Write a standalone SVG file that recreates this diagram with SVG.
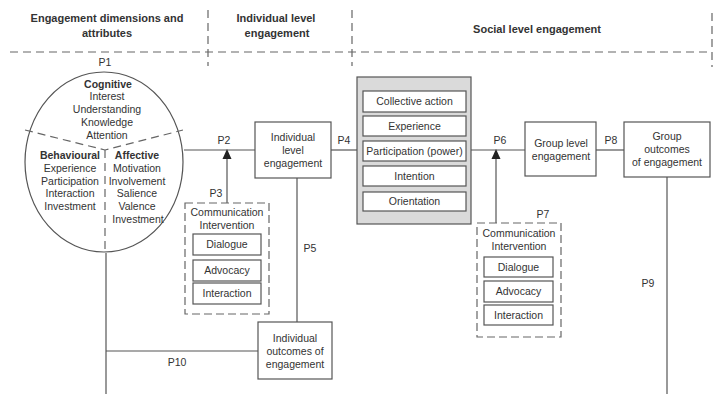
<svg xmlns="http://www.w3.org/2000/svg" width="718" height="394" viewBox="0 0 718 394">
<style>
text{font-family:"Liberation Sans",Arial,Helvetica,sans-serif;font-size:10.5px;fill:#333;text-anchor:middle}
.h{font-weight:bold;font-size:11px}
.b{font-weight:bold}
.ln{stroke:#555;stroke-width:1.2;fill:none}
.dash{stroke:#666;stroke-width:1.2;fill:none;stroke-dasharray:8 5}
.box{fill:#fff;stroke:#555;stroke-width:1.2}
.dbox{fill:#fff;stroke:#666;stroke-width:1.2;stroke-dasharray:8 4}
.grey{fill:#dadada;stroke:#555;stroke-width:1.2}
.arr{fill:#222}
</style>
<rect width="718" height="394" fill="#fff"/>
<g id="header">
<line class="dash" x1="10" y1="52" x2="712" y2="52"/>
<line class="dash" x1="208" y1="10" x2="208" y2="66"/>
<line class="dash" x1="352" y1="10" x2="352" y2="66"/>
<line class="dash" x1="712" y1="13" x2="712" y2="67"/>
<text class="h" x="107" y="22">Engagement dimensions and</text>
<text class="h" x="107" y="37">attributes</text>
<text class="h" x="276" y="22">Individual level</text>
<text class="h" x="277" y="37">engagement</text>
<text class="h" x="537" y="33">Social level engagement</text>
</g>
<g id="connectors">
<line class="ln" x1="184" y1="150" x2="255" y2="150"/>
<line class="ln" x1="227" y1="203" x2="227" y2="158"/>
<polygon class="arr" points="227,149 222.5,159 231.5,159"/>
<line class="ln" x1="331" y1="150" x2="357" y2="150"/>
<line class="ln" x1="297" y1="178" x2="297" y2="322"/>
<line class="ln" x1="471" y1="150" x2="525" y2="150"/>
<line class="ln" x1="496" y1="223" x2="496" y2="158"/>
<polygon class="arr" points="496,149 491.5,159 500.5,159"/>
<line class="ln" x1="596" y1="150" x2="624" y2="150"/>
<line class="ln" x1="667" y1="177" x2="667" y2="394"/>
<line class="ln" x1="106" y1="253" x2="106" y2="394"/>
<line class="ln" x1="106" y1="351" x2="258" y2="351"/>
<text x="105" y="66">P1</text>
<text x="224" y="144">P2</text>
<text x="216" y="197">P3</text>
<text x="344" y="144">P4</text>
<text x="310" y="252">P5</text>
<text x="500" y="144">P6</text>
<text x="543" y="218">P7</text>
<text x="611" y="144">P8</text>
<text x="648" y="287">P9</text>
<text x="177" y="366">P10</text>
</g>
<g id="dimensions">
<ellipse cx="104" cy="162" rx="79" ry="90" fill="#fff" stroke="#555" stroke-width="1.2"/>
<polyline class="dash" points="25,130 105,150 183,130" stroke-dasharray="6 4"/>
<line class="dash" x1="105" y1="150" x2="105" y2="252" stroke-dasharray="6 4"/>
<text class="b" x="108" y="88">Cognitive</text>
<text x="107" y="100">Interest</text>
<text x="107" y="113">Understanding</text>
<text x="107" y="126">Knowledge</text>
<text x="107" y="139">Attention</text>
<text class="b" x="70" y="159">Behavioural</text>
<text x="70" y="172">Experience</text>
<text x="70" y="185">Participation</text>
<text x="70" y="197">Interaction</text>
<text x="70" y="210">Investment</text>
<text class="b" x="137" y="159">Affective</text>
<text x="137" y="172">Motivation</text>
<text x="137" y="185">Involvement</text>
<text x="137" y="197">Salience</text>
<text x="137" y="210">Valence</text>
<text x="138" y="223">Investment</text>
</g>
<g id="individual-engagement">
<rect class="box" x="255" y="122" width="76" height="56"/>
<text x="293" y="141">Individual</text>
<text x="293" y="154">level</text>
<text x="293" y="167">engagement</text>
</g>
<g id="comm-intervention-1">
<rect class="dbox" x="185" y="203" width="84" height="111"/>
<text x="227" y="216">Communication</text>
<text x="227" y="229">Intervention</text>
<rect class="box" x="193" y="234" width="68" height="21"/>
<text x="227" y="248">Dialogue</text>
<rect class="box" x="193" y="260" width="68" height="21"/>
<text x="227" y="274">Advocacy</text>
<rect class="box" x="193" y="283" width="68" height="21"/>
<text x="227" y="297">Interaction</text>
</g>
<g id="social-attributes">
<rect class="grey" x="357" y="77" width="114" height="147"/>
<rect class="box" x="363" y="91" width="103" height="21"/>
<text x="414.5" y="105">Collective action</text>
<rect class="box" x="363" y="116" width="103" height="20"/>
<text x="414.5" y="130">Experience</text>
<rect class="box" x="363" y="141" width="103" height="20"/>
<text x="414.5" y="155">Participation (power)</text>
<rect class="box" x="363" y="166" width="103" height="20"/>
<text x="414.5" y="180">Intention</text>
<rect class="box" x="363" y="192" width="103" height="19"/>
<text x="414.5" y="205">Orientation</text>
</g>
<g id="group-engagement">
<rect class="box" x="525" y="122" width="71" height="54"/>
<text x="561" y="147">Group level</text>
<text x="561" y="160">engagement</text>
</g>
<g id="group-outcomes">
<rect class="box" x="624" y="122" width="86" height="55"/>
<text x="667" y="140">Group</text>
<text x="667" y="153">outcomes</text>
<text x="667" y="166">of engagement</text>
</g>
<g id="comm-intervention-2">
<rect class="dbox" x="477" y="223" width="84" height="114"/>
<text x="519" y="237">Communication</text>
<text x="519" y="250">Intervention</text>
<rect class="box" x="484" y="257" width="69" height="20"/>
<text x="518.5" y="271">Dialogue</text>
<rect class="box" x="484" y="281" width="69" height="21"/>
<text x="518.5" y="295">Advocacy</text>
<rect class="box" x="484" y="305" width="69" height="20"/>
<text x="518.5" y="319">Interaction</text>
</g>
<g id="individual-outcomes">
<rect class="box" x="258" y="322" width="74" height="57"/>
<text x="295" y="342">Individual</text>
<text x="295" y="355">outcomes of</text>
<text x="295" y="368">engagement</text>
</g>
</svg>
